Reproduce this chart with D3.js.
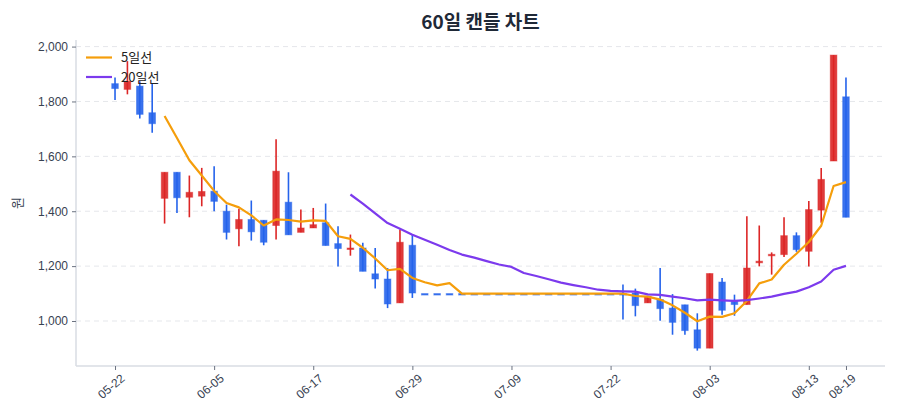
<!DOCTYPE html>
<html><head><meta charset="utf-8">
<script src="https://cdn.jsdelivr.net/npm/d3@7"></script>
<style>
html,body{margin:0;padding:0;background:#fff;}
svg{display:block;font-family:"Noto Sans CJK KR","Noto Sans",sans-serif;}
</style></head>
<body><svg id="c" width="900" height="420"></svg>
<script>
const dates = ["05-22","05-23","05-24","05-27","05-28","05-29","05-31","06-03","06-05",
"06-07","06-10","06-11","06-12","06-13","06-14","06-15","06-17",
"06-18","06-19","06-20","06-21","06-24","06-25","06-26","06-29",
"06-30","07-01","07-02","07-03","07-04","07-05","07-08","07-09",
"07-10","07-11","07-12","07-15","07-16","07-17","07-18","07-22",
"07-23","07-24","07-25","07-26","07-29","07-30","07-31","08-03",
"08-05","08-06","08-07","08-08","08-09","08-10","08-12","08-13",
"08-14","08-16","08-19"];
const open  = [1865,1844,1856,1759,1447,1542,1451,1455,1473,1400,1336,1370,1367,1348,1433,1323,1339,1358,1282,1262,1266,1172,1153,1066,1276,
1100,1100,1100,1100,1100,1100,1100,1100,1100,1100,1100,1100,1100,1100,1100,1100,1100,
1102,1066,1078,1047,1059,968,901,1142,1072,1060,1212,1240,1242,1311,1254,1404,1583,1817];
const high  = [1887,1947,1874,1865,1542,1542,1530,1558,1564,1424,1409,1439,1367,1662,1542,1406,1412,1428,1345,1315,1285,1266,1193,1333,1315,
1100,1100,1100,1100,1100,1100,1100,1100,1100,1100,1100,1100,1100,1100,1100,1100,1133,
1118,1090,1193,1098,1059,1028,1173,1157,1096,1382,1348,1250,1378,1323,1437,1558,1969,1887];
const low   = [1805,1826,1738,1686,1355,1394,1378,1418,1400,1297,1272,1293,1276,1297,1314,1323,1339,1275,1199,1238,1181,1118,1047,1066,1084,
1100,1100,1100,1100,1100,1100,1100,1100,1100,1100,1100,1100,1100,1100,1100,1100,1005,
1017,1066,1001,950,950,892,901,1023,1019,1060,1199,1169,1233,1252,1199,1358,1583,1378];
const close = [1847,1874,1753,1719,1542,1449,1469,1472,1436,1323,1370,1325,1287,1546,1314,1339,1351,1275,1264,1266,1181,1153,1062,1287,1102,
1100,1100,1100,1100,1100,1100,1100,1100,1100,1100,1100,1100,1100,1100,1100,1100,1100,
1056,1090,1045,995,965,901,1173,1039,1060,1193,1218,1243,1311,1260,1406,1516,1969,1378];
const ma5 = [null,null,null,null,1747,1667,1586,1530,1474,1430,1414,1385,1348,1370,1368,1362,1367,1365,1309,1299,1267,1228,1185,1190,1157,
1141,1130,1138,1100,1100,1100,1100,1100,1100,1100,1100,1100,1100,1100,1100,1100,1100,
1091,1089,1078,1057,1030,999,1016,1015,1028,1073,1137,1151,1205,1245,1288,1347,1492,1506];
const ma20 = [null,null,null,null,null,null,null,null,null,null,null,null,null,null,null,null,null,null,null,1461,1428,1392,1357,1336,1314,
1296,1278,1259,1242,1231,1218,1206,1197,1175,1164,1152,1140,1131,1123,1114,1110,1108,
1107,1097,1095,1089,1083,1075,1078,1075,1073,1076,1082,1089,1099,1107,1123,1144,1187,1201];
const tickLabels = ["05-22","06-05","06-17","06-29","07-09","07-22","08-03","08-13","08-19"];
const yTicks = [1000,1200,1400,1600,1800,2000];
const seriesNames = ["5일선","20일선"];
const seriesColors = ["#f59e0b","#7c3aed"];

const svg = d3.select("#c");
const L=76, R=885, T=40, B=366;
const x = d3.scalePoint().domain(dates).range([L,R]).padding(3.15);
const y = d3.scaleLinear().domain([836,2024]).range([B,T]);
const UP="#dc2626", DOWN="#2563eb";

// grid
svg.append("g").selectAll("line").data(yTicks).join("line")
  .attr("x1",L).attr("x2",R).attr("y1",d=>y(d)).attr("y2",d=>y(d))
  .attr("stroke","#e5e7eb").attr("stroke-dasharray","5,4").attr("stroke-width",1);

// axes
const yAxis = svg.append("g").attr("transform",`translate(${L},0)`)
  .call(d3.axisLeft(y).tickValues(yTicks).tickFormat(d3.format(",")).tickSize(4).tickPadding(4));
yAxis.select(".domain").attr("stroke","#d9dde3").attr("stroke-width",1.5).attr("d",`M0,${T}V${B}`);
yAxis.selectAll(".tick line").attr("stroke","#6b7280");
yAxis.selectAll("text").attr("fill","#374151").style("font-size","12px");

const xAxis = svg.append("g").attr("transform",`translate(0,${B})`)
  .call(d3.axisBottom(x).tickValues(tickLabels).tickSize(4).tickPadding(6));
xAxis.select(".domain").attr("stroke","#d9dde3").attr("stroke-width",1.5).attr("d",`M${L},0H${R}`);
xAxis.selectAll(".tick line").attr("stroke","#6b7280");
xAxis.selectAll("text").attr("fill","#374151").style("font-size","12px")
  .attr("text-anchor","end").attr("dx","-1").attr("dy","7")
  .attr("transform","rotate(-40)");

// y label
svg.append("text").attr("transform",`translate(22,${(T+B)/2}) rotate(-90)`)
  .attr("text-anchor","middle").attr("fill","#374151").style("font-size","13px").text("원");

// title
svg.append("text").attr("x",(L+R)/2).attr("y",29).attr("text-anchor","middle")
  .attr("fill","#1f2937").style("font-size","19px").style("font-weight","700").text("60일 캔들 차트");

// candles
const idx = d3.range(dates.length);
const bw = 6.6;
const g = svg.append("g");
g.selectAll("line.w").data(idx).join("line").attr("class","w")
  .attr("x1",i=>x(dates[i])).attr("x2",i=>x(dates[i]))
  .attr("y1",i=>y(high[i])).attr("y2",i=>y(low[i]))
  .attr("stroke",i=>close[i]>open[i]?UP:DOWN).attr("stroke-width",1.6);
g.selectAll("rect.b").data(idx).join("rect").attr("class","b")
  .attr("x",i=>x(dates[i])-bw/2).attr("width",bw)
  .attr("y",i=>y(Math.max(open[i],close[i])))
  .attr("height",i=>Math.max(1.5,Math.abs(y(open[i])-y(close[i]))))
  .attr("fill",i=>close[i]>open[i]?UP:DOWN).attr("fill-opacity",0.9)
  .attr("stroke",i=>close[i]>open[i]?UP:DOWN).attr("stroke-opacity",0.45).attr("stroke-width",1);

// moving averages
[ma5,ma20].forEach((s,k)=>{
  const line = d3.line().defined(i=>s[i]!=null).x(i=>x(dates[i])).y(i=>y(s[i]));
  svg.append("path").datum(idx).attr("d",line).attr("fill","none")
    .attr("stroke",seriesColors[k]).attr("stroke-width",2.2).attr("stroke-linejoin","round");
});

// legend
const lg = svg.append("g");
seriesNames.forEach((n,k)=>{
  const yy = 57.5 + k*19.5;
  lg.append("line").attr("x1",86).attr("x2",112).attr("y1",yy).attr("y2",yy)
    .attr("stroke",seriesColors[k]).attr("stroke-width",2.2);
  lg.append("text").attr("x",121).attr("y",yy+4.5).attr("fill","#222")
    .style("font-size","13px").text(n);
});
</script></body></html>
